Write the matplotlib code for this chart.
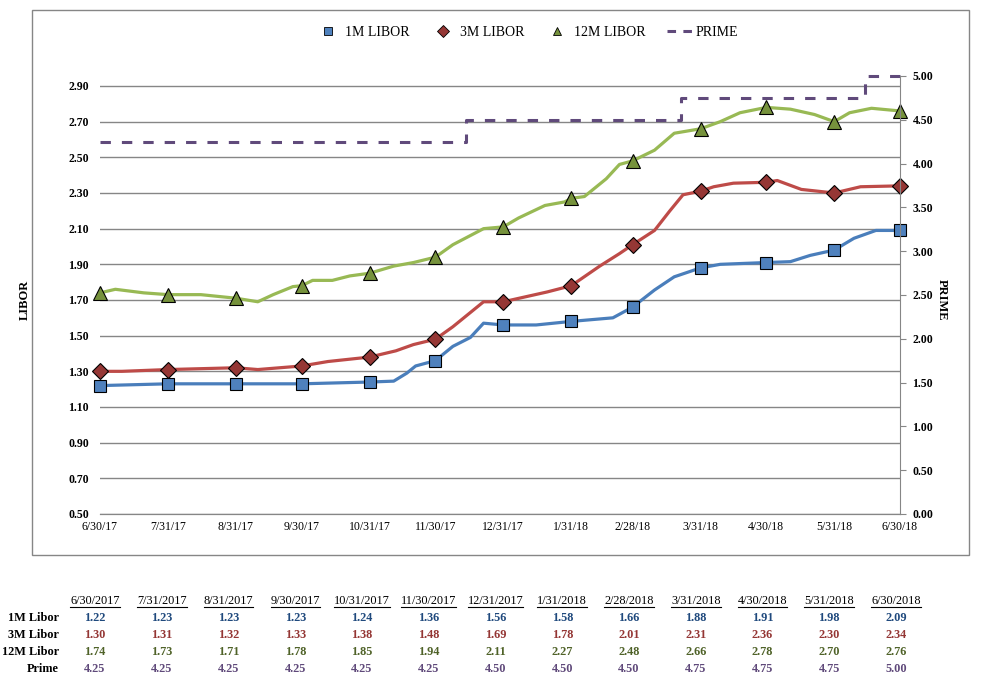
import pandas as pd
import matplotlib.pyplot as plt
from matplotlib.lines import Line2D
from matplotlib.patches import Rectangle

plt.rcParams["font.family"] = ["Liberation Serif", "DejaVu Serif"]

# month-end values (from the table under the chart)
month_ends = pd.to_datetime([
    "2017-06-30", "2017-07-31", "2017-08-31", "2017-09-30", "2017-10-31",
    "2017-11-30", "2017-12-31", "2018-01-31", "2018-02-28", "2018-03-31",
    "2018-04-30", "2018-05-31", "2018-06-30",
])
libor_1m = [1.22, 1.23, 1.23, 1.23, 1.24, 1.36, 1.56, 1.58, 1.66, 1.88, 1.91, 1.98, 2.09]
libor_3m = [1.30, 1.31, 1.32, 1.33, 1.38, 1.48, 1.69, 1.78, 2.01, 2.31, 2.36, 2.30, 2.34]
libor_12m = [1.74, 1.73, 1.71, 1.78, 1.85, 1.94, 2.11, 2.27, 2.48, 2.66, 2.78, 2.70, 2.76]
prime = [4.25, 4.25, 4.25, 4.25, 4.25, 4.25, 4.50, 4.50, 4.50, 4.75, 4.75, 4.75, 5.00]

# readings between month ends, taken off the chart lines
mid_dates_1m = ["2017-11-11", "2017-11-17", "2017-11-21", "2017-12-08", "2017-12-16",
                "2017-12-22", "2018-01-15", "2018-02-19", "2018-03-10", "2018-03-19",
                "2018-04-09", "2018-05-11", "2018-05-20", "2018-06-09", "2018-06-19"]
mid_1m = [1.245, 1.29, 1.33, 1.44, 1.49, 1.57, 1.56, 1.60, 1.756, 1.83,
          1.90, 1.915, 1.95, 2.046, 2.09]

mid_dates_3m = ["2017-07-10", "2017-09-10", "2017-10-12", "2017-11-12", "2017-11-20",
                "2017-12-08", "2017-12-19", "2017-12-22", "2018-01-20", "2018-02-13",
                "2018-02-22", "2018-03-10", "2018-03-17", "2018-03-23", "2018-04-06",
                "2018-04-15", "2018-05-05", "2018-05-16", "2018-06-12"]
mid_3m = [1.30, 1.31, 1.355, 1.415, 1.45, 1.55, 1.66, 1.69, 1.745, 1.89,
          1.96, 2.09, 2.20, 2.29, 2.335, 2.355, 2.37, 2.32, 2.335]

mid_dates_12m = ["2017-07-07", "2017-07-20", "2017-08-15", "2017-09-10", "2017-09-17",
                 "2017-09-26", "2017-10-05", "2017-10-14", "2017-10-22", "2017-11-11",
                 "2017-11-20", "2017-12-08", "2017-12-22", "2018-01-07", "2018-01-19",
                 "2018-01-28", "2018-02-06", "2018-02-10", "2018-02-16", "2018-02-22",
                 "2018-03-10", "2018-03-19", "2018-04-09", "2018-04-18", "2018-05-11",
                 "2018-05-22", "2018-06-07", "2018-06-17"]
mid_12m = [1.76, 1.74, 1.73, 1.69, 1.73, 1.775, 1.81, 1.81, 1.835, 1.89,
           1.91, 2.01, 2.10, 2.16, 2.23, 2.25, 2.28, 2.32, 2.38, 2.46,
           2.54, 2.635, 2.70, 2.75, 2.77, 2.74, 2.75, 2.775]

# prime rate changes seen on the chart
prime_dates = ["2017-06-30", "2017-12-14", "2018-03-22", "2018-06-14", "2018-06-30"]
prime_steps = [4.25, 4.50, 4.75, 5.00, 5.00]


def path(mid_dates, mid_vals, month_vals):
    s = pd.concat([pd.Series(month_vals, index=month_ends),
                   pd.Series(mid_vals, index=pd.to_datetime(mid_dates))])
    return s.sort_index()


W, H = 986, 683
fig = plt.figure(figsize=(W / 100, H / 100), dpi=100)
ax = fig.add_axes([100 / W, 1 - 514 / H, 800 / W, 438 / H])
ax2 = ax.twinx()

series = [
    ("1M LIBOR", "1M Libor", libor_1m, mid_dates_1m, mid_1m, "#4A7EBB", "#4F81BD", "s", 8, "#1F497D"),
    ("3M LIBOR", "3M Libor", libor_3m, mid_dates_3m, mid_3m, "#BE4B48", "#953735", "D", 8, "#943634"),
    ("12M LIBOR", "12M Libor", libor_12m, mid_dates_12m, mid_12m, "#98B954", "#76923C", "^", 10, "#4F6228"),
]

handles = []
for name, _, vals, mdates_, mvals, lc, mc, mk, ms, _ in series:
    p = path(mdates_, mvals, vals)
    ax.plot(p.index, p.values, color=lc, lw=2.3, zorder=3)
    ax.plot(month_ends, vals, ls="none", marker=mk, ms=ms, mfc=mc, mec="black",
            mew=0.8, zorder=4, clip_on=False)
    handles.append(Line2D([], [], ls="none", marker=mk, ms=6, mfc=mc, mec="black",
                          mew=0.6, label=name))

ax2.step(pd.to_datetime(prime_dates), prime_steps, where="post", color="#604A7B",
         lw=2.2, ls=(0, (3.4, 3.6)), clip_on=False)
handles.append(Line2D([], [], color="#604A7B", lw=2.2, ls=(0, (2.8, 2.4)), label="PRIME"))

ax.set_xlim(month_ends[0], month_ends[-1])
ax.set_ylim(0.5, 2.956)
ax2.set_ylim(0, 5)

ax.set_xticks(month_ends)
ax.set_xticklabels([f"{d.month}/{d.day}/{d.strftime('%y')}" for d in month_ends], fontsize=8.5)
ax.set_yticks([0.5 + 0.2 * i for i in range(13)])
ax.set_yticklabels([f"{0.5 + 0.2 * i:.2f}" for i in range(13)], fontsize=8.5, fontweight="bold")
ax.tick_params(axis="x", length=0, pad=5)
ax.tick_params(axis="y", length=0, pad=8)
ax.grid(axis="y", color="#868686", lw=1)
ax.set_axisbelow(True)

ax2.set_yticks([0.5 * i for i in range(11)])
ax2.set_yticklabels([f"{0.5 * i:.2f}" for i in range(11)], fontsize=8.5, fontweight="bold")
ax2.tick_params(axis="y", length=4, color="#868686", pad=5)

for a in (ax, ax2):
    for side in ("top", "left", "right"):
        a.spines[side].set_visible(False)
    a.spines["bottom"].set_color("#868686")
ax2.spines["right"].set_visible(True)
ax2.spines["right"].set_color("#868686")

fig.text(25 / W, 1 - 300 / H, "LIBOR", rotation=90, ha="center", va="center",
         fontsize=9, fontweight="bold")
fig.text(942 / W, 1 - 300 / H, "PRIME", rotation=270, ha="center", va="center",
         fontsize=9, fontweight="bold")

fig.legend(handles=handles, loc="center", bbox_to_anchor=(527 / W, 1 - 32 / H), ncol=4,
           frameon=False, fontsize=10, handlelength=1.8, columnspacing=1.5,
           handletextpad=0.3)

# chart border
fig.add_artist(Rectangle((32 / W, 1 - 555 / H), 937 / W, 545 / H, transform=fig.transFigure,
                         fill=False, edgecolor="#868686", lw=1))

# data table below the chart
col_x = [95 + 66.75 * i for i in range(13)]
headers = []
for x, d in zip(col_x, month_ends):
    headers.append(fig.text(x / W, 1 - 601 / H, f"{d.month}/{d.day}/{d.year}",
                            ha="center", va="center", fontsize=8.8))
rows = [(s[1], s[2], s[9]) for s in series] + [("Prime", prime, "#5F497A")]
for r, (label, vals, col) in enumerate(rows):
    y = 1 - (618 + 17 * r) / H
    fig.text(59 / W, y, label, ha="right", va="center", fontsize=8.8, fontweight="bold")
    for x, v in zip(col_x, vals):
        fig.text(x / W, y, f"{v:.2f}", ha="center", va="center", fontsize=8.8,
                 fontweight="bold", color=col)

fig.canvas.draw()
inv = fig.transFigure.inverted()
for t in headers:
    bb = t.get_window_extent().transformed(inv)
    fig.add_artist(Line2D([bb.x0, bb.x1], [bb.y0, bb.y0], transform=fig.transFigure,
                          color="black", lw=0.8))

fig.savefig("out.png", dpi=100)
